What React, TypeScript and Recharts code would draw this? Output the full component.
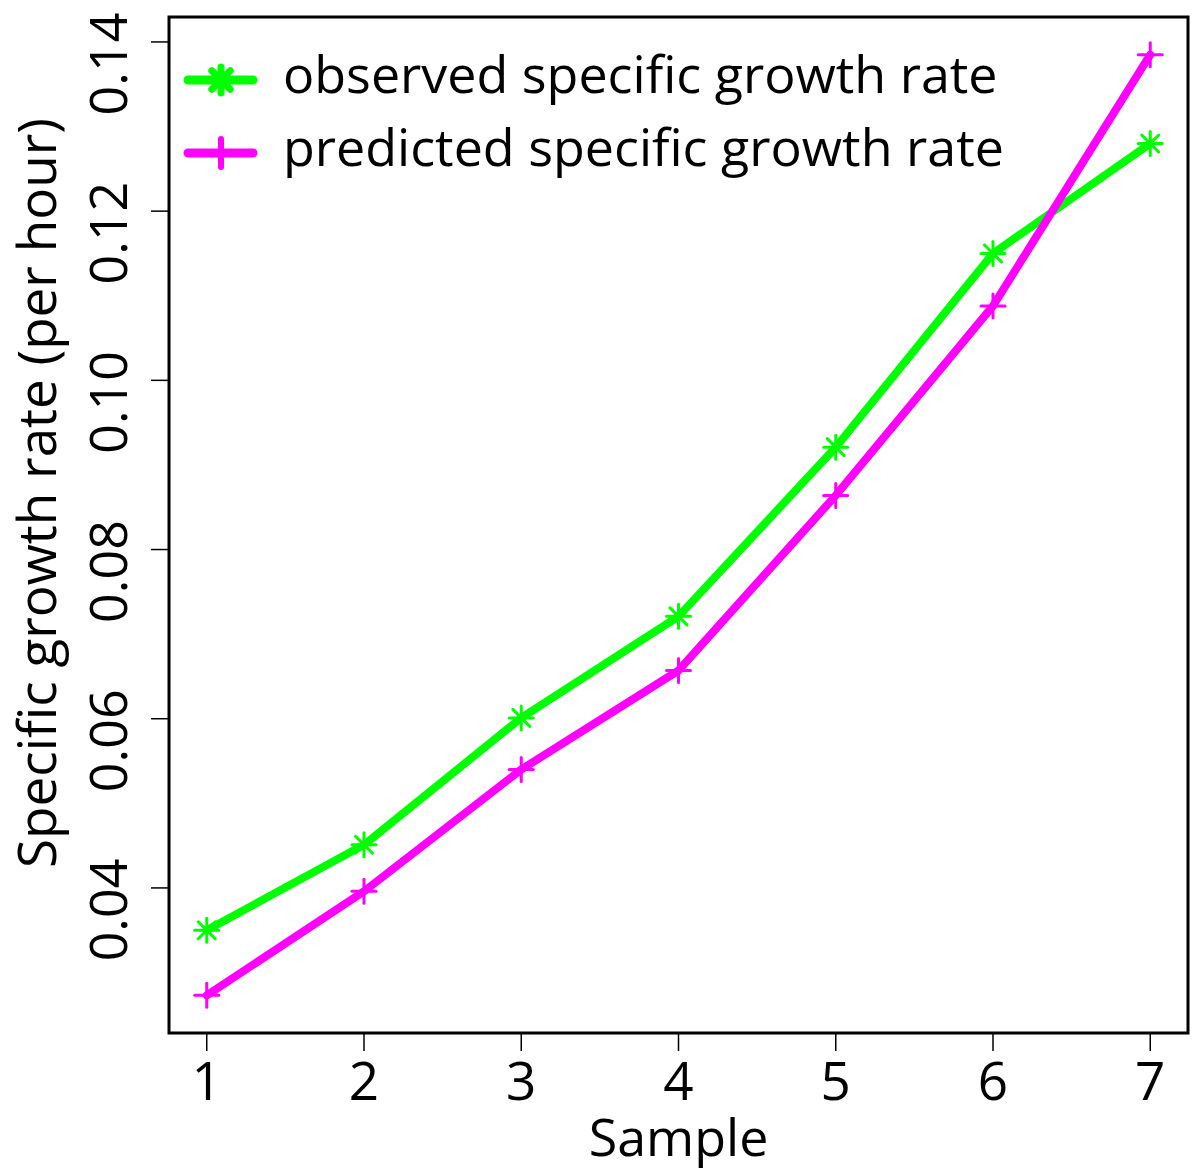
import React from "react";
import {
    LineChart, Line, XAxis, YAxis, ReferenceArea, Legend, Label
} from "recharts";

const samples = [1, 2, 3, 4, 5, 6, 7];
const observed = [0.035, 0.0451, 0.0601, 0.0721, 0.0921, 0.115, 0.128];
const predicted = [0.0273, 0.0396, 0.054, 0.0657, 0.0864, 0.1088, 0.1385];
const yTicks = [0.04, 0.06, 0.08, 0.1, 0.12, 0.14];

const data = samples.map((s, i) => ({ sample: s, observed: observed[i], predicted: predicted[i] }));

// R-style 4% padding around the data range
const xPad = (samples[samples.length - 1] - samples[0]) * 0.04;
const xDomain = [samples[0] - xPad, samples[samples.length - 1] + xPad];
const allY = [...observed, ...predicted];
const yLo = Math.min(...allY);
const yHi = Math.max(...allY);
const yPad = (yHi - yLo) * 0.04;
const yDomain = [yLo - yPad, yHi + yPad];

const FONT = "'Open Sans', sans-serif";
const GREEN = "#00ff00";
const MAGENTA = "#ff00ff";

function Asterisk({ cx, cy, color, r = 12, w = 3 }: any) {
    const d = r * 0.7071;
    return (
        <g stroke={color} strokeWidth={w} strokeLinecap="round">
            <line x1={cx - r} y1={cy} x2={cx + r} y2={cy} />
            <line x1={cx} y1={cy - r} x2={cx} y2={cy + r} />
            <line x1={cx - d} y1={cy - d} x2={cx + d} y2={cy + d} />
            <line x1={cx - d} y1={cy + d} x2={cx + d} y2={cy - d} />
        </g>
    );
}

function Plus({ cx, cy, color, r = 12, w = 3 }: any) {
    return (
        <g stroke={color} strokeWidth={w} strokeLinecap="round">
            <line x1={cx - r} y1={cy} x2={cx + r} y2={cy} />
            <line x1={cx} y1={cy - r} x2={cx} y2={cy + r} />
        </g>
    );
}

// labels sit a little below their ticks, as in the original
const YTick = ({ x, y, payload }: any) => {
    const tx = x - 22;
    const ty = y + 22;
    return (
        <text
            x={tx} y={ty} transform={`rotate(-90 ${tx} ${ty})`}
            textAnchor="middle" fontFamily={FONT} fontSize={52} fill="#000"
        >
            {Number(payload.value).toFixed(2)}
        </text>
    );
};

const XTick = ({ x, y, payload }: any) => (
    <text x={x} y={y + 47} textAnchor="middle" fontFamily={FONT} fontSize={53} fill="#000">
        {payload.value}
    </text>
);

const LegendBox = () => {
    const rows = [
        { label: "observed specific growth rate", color: GREEN, y: 80, mark: "star" },
        { label: "predicted specific growth rate", color: MAGENTA, y: 153, mark: "plus" },
    ];
    return (
        <svg width={1100} height={200} style={{ display: "block" }}>
            {rows.map((r) => (
                <g key={r.label}>
                    <line x1={188} y1={r.y} x2={253} y2={r.y} stroke={r.color} strokeWidth={9} strokeLinecap="round" />
                    {r.mark === "star"
                        ? <Asterisk cx={221} cy={r.y} color={r.color} r={13} w={7} />
                        : <Plus cx={221} cy={r.y} color={r.color} r={14} w={6} />}
                    <text x={283} y={r.y + 13} fontFamily={FONT} fontSize={52} fill="#000">{r.label}</text>
                </g>
            ))}
        </svg>
    );
};

export default function App() {
    return (
        <div style={{ width: 1200, height: 1174, background: "#fff" }}>
            <style>{`body{margin:0}`}</style>
            <LineChart width={1200} height={1174} data={data} margin={{ top: 17, right: 12, bottom: 0, left: 0 }}>
                <XAxis
                    dataKey="sample" type="number" domain={xDomain} ticks={samples}
                    height={141} axisLine={false} tickSize={18} tickMargin={2}
                    tickLine={{ stroke: "#000", strokeWidth: 1.5 }} tick={<XTick />}
                    allowDataOverflow
                >
                    <Label
                        content={({ viewBox }: any) => (
                            <text x={viewBox.x + viewBox.width / 2} y={viewBox.y + 123} textAnchor="middle"
                                fontFamily={FONT} fontSize={52} fill="#000">Sample</text>
                        )}
                    />
                </XAxis>
                <YAxis
                    type="number" domain={yDomain} ticks={yTicks} width={169}
                    axisLine={false} tickSize={18} tickMargin={2}
                    tickLine={{ stroke: "#000", strokeWidth: 1.5 }} tick={<YTick />}
                    allowDataOverflow
                >
                    <Label
                        content={({ viewBox }: any) => {
                            const cx = viewBox.x + 56;
                            const cy = viewBox.y + viewBox.height / 2 - 32;
                            return (
                                <text x={cx} y={cy} transform={`rotate(-90 ${cx} ${cy})`} textAnchor="middle"
                                    fontFamily={FONT} fontSize={53} fill="#000">Specific growth rate (per hour)</text>
                            );
                        }}
                    />
                </YAxis>
                <ReferenceArea
                    x1={xDomain[0]} x2={xDomain[1]} y1={yDomain[0]} y2={yDomain[1]}
                    fill="none" fillOpacity={0} stroke="#000" strokeWidth={3} ifOverflow="visible"
                />
                <Line
                    dataKey="observed" name="observed specific growth rate" stroke={GREEN} strokeWidth={8}
                    strokeLinejoin="round" strokeLinecap="round" isAnimationActive={false}
                    dot={(p: any) => <Asterisk key={p.index} cx={p.cx} cy={p.cy} color={GREEN} />}
                />
                <Line
                    dataKey="predicted" name="predicted specific growth rate" stroke={MAGENTA} strokeWidth={8}
                    strokeLinejoin="round" strokeLinecap="round" isAnimationActive={false}
                    dot={(p: any) => <Plus key={p.index} cx={p.cx} cy={p.cy} color={MAGENTA} />}
                />
                <Legend
                    layout="horizontal" verticalAlign="middle" align="center"
                    wrapperStyle={{ position: "absolute", left: 0, top: 0, width: 1100, height: 200 }}
                    content={<LegendBox />}
                />
            </LineChart>
        </div>
    );
}
